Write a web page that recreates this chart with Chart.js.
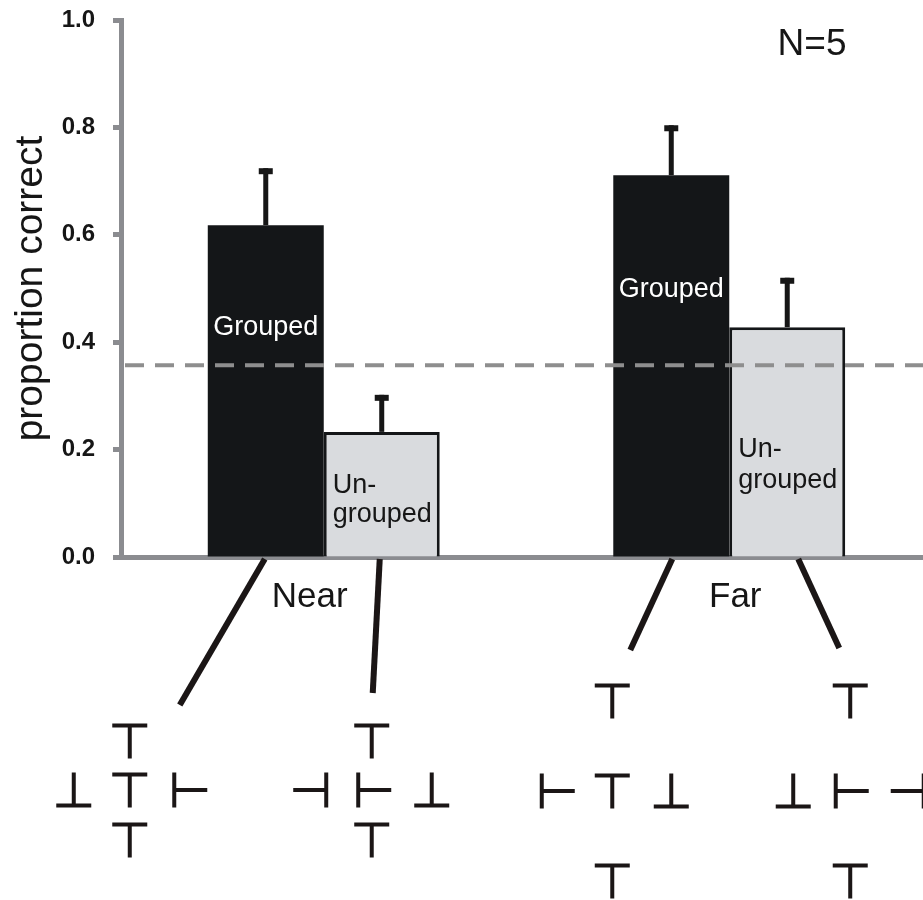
<!DOCTYPE html>
<html>
<head>
<meta charset="utf-8">
<script src="https://cdn.jsdelivr.net/npm/chart.js@4.4.0/dist/chart.umd.min.js"></script>
<style>
  html, body { margin: 0; padding: 0; background: #fff; overflow: hidden; }
  #wrap { width: 935px; height: 900px; position: relative; }
</style>
</head>
<body>
<div id="wrap"><canvas id="chart"></canvas></div>
<script>
  const categories = ['Near', 'Far'];
  const groupedMean = [0.618, 0.711];
  const groupedErr = [0.106, 0.093];
  const ungroupedMean = [0.233, 0.428];
  const ungroupedErr = [0.069, 0.092];
  const chanceLevel = 0.357;
  const yTicks = [0, 0.2, 0.4, 0.6, 0.8, 1.0];
  const sampleNote = 'N=5';

  const FONT = "'Liberation Sans', Arial, Helvetica, sans-serif";
  const INK = '#161616';
  const AXIS_GREY = '#8b8c90';

  // text drawn inside each bar: [dataset][category] -> lines, baseline offsets from bar top
  const barText = [
    [{ lines: ['Grouped'], dy: [110], align: 'center' }, { lines: ['Grouped'], dy: [122], align: 'center' }],
    [{ lines: ['Un-', 'grouped'], dy: [61, 90], align: 'left' }, { lines: ['Un-', 'grouped'], dy: [130, 161], align: 'left' }]
  ];
  const catLabelShift = [-14, 6];

  // stimulus sketches under the bars, offsets relative to bar centre / axis
  const stimuli = [
    [
      { from: [-1, 2], to: [-86, 148], at: [-136, 233], glyphs: [[0, -49, 'T'], [0, 0, 'T'], [0, 50, 'T'], [-56, 0, 'B'], [60, 0, 'R']] },
      { from: [1, 2], to: [-41, 93], at: [-59, 234], glyphs: [[0, -90, 'T'], [0, 0, 'T'], [0, 90, 'T'], [-55, 0, 'R'], [59, 0, 'B']] }
    ],
    [
      { from: [-2, 2], to: [-9, 136], at: [-10, 233], glyphs: [[0, -49, 'T'], [2, 0, 'R'], [-61, 0, 'L'], [60, 0, 'B'], [0, 50, 'T']] },
      { from: [11, 2], to: [52, 91], at: [63, 234], glyphs: [[0, -90, 'T'], [1, 0, 'R'], [-57, 0, 'B'], [0, 90, 'T'], [58, 0, 'L']] }
    ]
  ];

  function drawGlyph(ctx, x, y, kind) {
    const h = 17.5;
    ctx.beginPath();
    if (kind === 'T') {
      ctx.moveTo(x - h, y - h + 2); ctx.lineTo(x + h, y - h + 2);
      ctx.moveTo(x, y - h); ctx.lineTo(x, y + h);
    } else if (kind === 'B') {
      ctx.moveTo(x - h, y + h - 2); ctx.lineTo(x + h, y + h - 2);
      ctx.moveTo(x, y - h); ctx.lineTo(x, y + h);
    } else if (kind === 'R') {
      ctx.moveTo(x - h + 2, y - h); ctx.lineTo(x - h + 2, y + h);
      ctx.moveTo(x - h, y); ctx.lineTo(x + h, y);
    } else if (kind === 'L') {
      ctx.moveTo(x + h - 2, y - h); ctx.lineTo(x + h - 2, y + h);
      ctx.moveTo(x - h, y); ctx.lineTo(x + h, y);
    }
    ctx.stroke();
  }

  const figureExtras = {
    id: 'figureExtras',
    afterDatasetsDraw(chart) {
      const ctx = chart.ctx, area = chart.chartArea, y = chart.scales.y;

      // chance level
      ctx.save();
      ctx.strokeStyle = '#8e8e8e';
      ctx.lineWidth = 4;
      ctx.setLineDash([19, 11]);
      const cy = y.getPixelForValue(chanceLevel);
      ctx.beginPath();
      ctx.moveTo(area.left + 4, cy);
      ctx.lineTo(area.right, cy);
      ctx.stroke();
      ctx.restore();

      // error bars (upper only)
      ctx.save();
      ctx.fillStyle = INK;
      chart.data.datasets.forEach((ds, di) => {
        chart.getDatasetMeta(di).data.forEach((bar, i) => {
          const top = y.getPixelForValue(ds.data[i] + ds.err[i]);
          ctx.fillRect(bar.x - 2.5, top, 5, bar.y - top);
          ctx.fillRect(bar.x - 7, top, 14, 6);
        });
      });
      ctx.restore();

      // labels inside bars
      ctx.save();
      ctx.font = '27px ' + FONT;
      ctx.textBaseline = 'alphabetic';
      chart.data.datasets.forEach((ds, di) => {
        chart.getDatasetMeta(di).data.forEach((bar, i) => {
          const t = barText[di][i];
          ctx.fillStyle = di === 0 ? '#ffffff' : INK;
          ctx.textAlign = t.align;
          const left = bar.x - bar.width / 2;
          const tx = t.align === 'center' ? bar.x : left + 9;
          t.lines.forEach((line, k) => ctx.fillText(line, tx, bar.y + t.dy[k]));
        });
      });
      ctx.restore();
    },
    afterDraw(chart) {
      const ctx = chart.ctx, area = chart.chartArea, x = chart.scales.x;

      // category names
      ctx.save();
      ctx.fillStyle = INK;
      ctx.font = '35px ' + FONT;
      ctx.textAlign = 'center';
      ctx.textBaseline = 'alphabetic';
      categories.forEach((c, i) => {
        ctx.fillText(c, x.getPixelForValue(i) + catLabelShift[i], area.bottom + 50);
      });

      // N note
      ctx.font = '37px ' + FONT;
      ctx.fillText(sampleNote, area.right - 120, 55);
      ctx.restore();

      // connectors and stimulus sketches
      ctx.save();
      ctx.strokeStyle = '#1b1616';
      ctx.lineCap = 'butt';
      chart.data.datasets.forEach((ds, di) => {
        chart.getDatasetMeta(di).data.forEach((bar, i) => {
          const s = stimuli[di][i];
          ctx.lineWidth = 6;
          ctx.beginPath();
          ctx.moveTo(bar.x + s.from[0], area.bottom + s.from[1]);
          ctx.lineTo(bar.x + s.to[0], area.bottom + s.to[1]);
          ctx.stroke();
          ctx.lineWidth = 4;
          const cx = bar.x + s.at[0], cy = area.bottom + s.at[1];
          s.glyphs.forEach(g => drawGlyph(ctx, cx + g[0], cy + g[1], g[2]));
        });
      });
      ctx.restore();
    }
  };

  new Chart(document.getElementById('chart'), {
    type: 'bar',
    data: {
      labels: categories,
      datasets: [
        { label: 'Grouped', data: groupedMean, err: groupedErr, backgroundColor: '#141618', borderWidth: 0 },
        { label: 'Ungrouped', data: ungroupedMean, err: ungroupedErr, backgroundColor: '#d9dbde', borderColor: '#141618', borderWidth: 3, borderSkipped: 'bottom' }
      ]
    },
    options: {
      responsive: true,
      maintainAspectRatio: false,
      animation: false,
      categoryPercentage: 0.572,
      barPercentage: 1.0,
      layout: { padding: { top: 20, right: 3, left: 0, bottom: 0 } },
      plugins: { legend: { display: false }, tooltip: { enabled: false } },
      scales: {
        x: {
          grid: { display: false },
          border: { display: true, color: AXIS_GREY, width: 5 },
          ticks: { display: false },
          afterFit(scale) { scale.height = 343; }
        },
        y: {
          min: 0, max: 1,
          afterBuildTicks(scale) { scale.ticks = yTicks.map(v => ({ value: v })); },
          ticks: {
            padding: 18,
            color: INK,
            font: { family: FONT, size: 24, weight: 'bold' },
            callback: v => v.toFixed(1)
          },
          grid: { display: true, drawOnChartArea: false, drawTicks: true, tickLength: 8, tickWidth: 5, tickColor: AXIS_GREY },
          border: { display: true, color: AXIS_GREY, width: 5 },
          title: {
            display: true,
            text: 'proportion correct',
            color: INK,
            font: { family: FONT, size: 39 },
            padding: { top: 8, bottom: 0 }
          },
          afterFit(scale) {
            scale.width = 121;
            scale.paddingTop = 0;
            scale.paddingBottom = 0;
          }
        }
      }
    },
    plugins: [figureExtras]
  });
</script>
</body>
</html>
